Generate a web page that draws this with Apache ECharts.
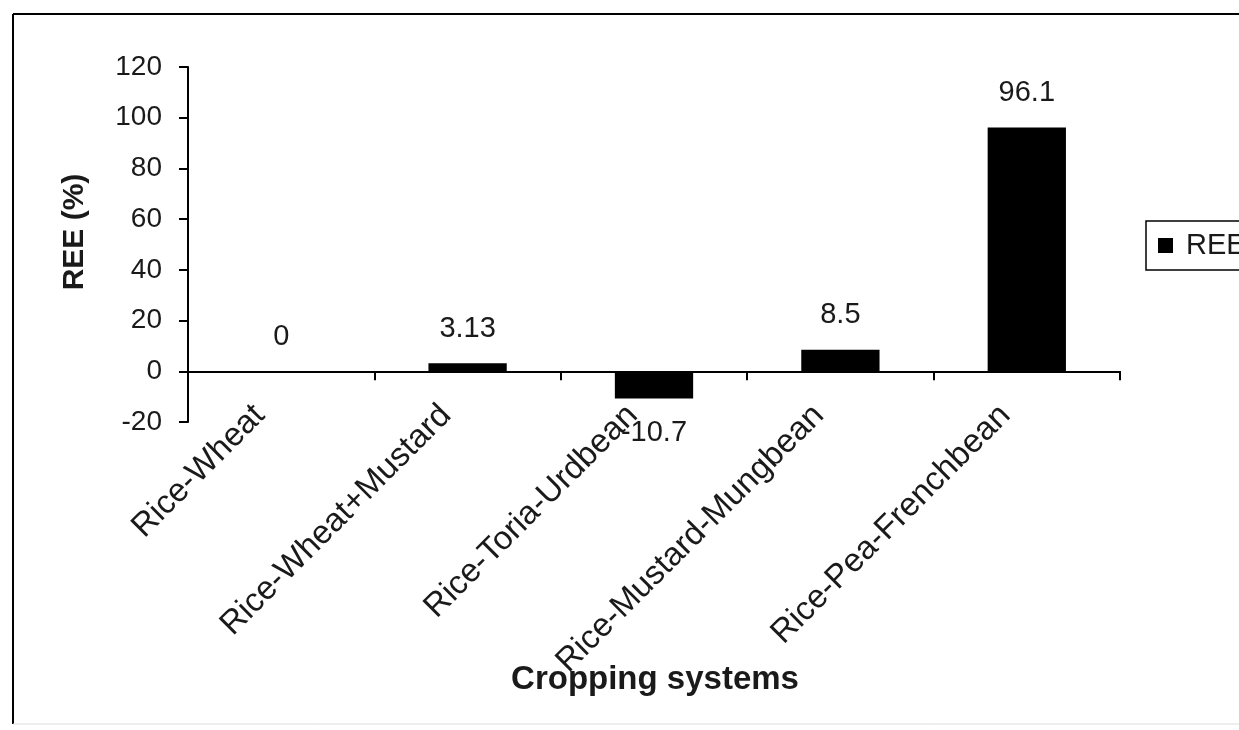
<!DOCTYPE html>
<html>
<head>
<meta charset="utf-8">
<style>
  html, body { margin: 0; padding: 0; background: #fff; }
  #chart { width: 1239px; height: 730px; }
</style>
<script src="https://cdn.jsdelivr.net/npm/echarts@6/dist/echarts.min.js"></script>
</head>
<body>
<div id="chart"></div>
<script>
// Relative economic efficiency by cropping system
const categories = ['Rice-Wheat', 'Rice-Wheat+Mustard', 'Rice-Toria-Urdbean', 'Rice-Mustard-Mungbean', 'Rice-Pea-Frenchbean'];
const reeValues = [0, 3.13, -10.7, 8.5, 96.1];
const yTicks = { min: -20, max: 120, step: 20 };
const seriesName = 'REE';
const xTitle = 'Cropping systems';
const yTitle = 'REE (%)';

const FONT = '"Liberation Sans", Arial, sans-serif';
const INK = '#1a1a1a';

const chart = echarts.init(document.getElementById('chart'), null, { renderer: 'canvas' });

chart.setOption({
  animation: false,
  backgroundColor: '#fff',
  grid: { left: 188, right: 119, top: 67, bottom: 308, containLabel: false, outerBoundsMode: 'none' },
  graphic: [
    // chart frame
    { type: 'line', shape: { x1: 13, y1: 14, x2: 1239, y2: 14 }, style: { stroke: '#000', lineWidth: 2 } },
    { type: 'line', shape: { x1: 13, y1: 14, x2: 13, y2: 724 }, style: { stroke: '#000', lineWidth: 2 } },
    { type: 'line', shape: { x1: 13, y1: 724, x2: 1239, y2: 724 }, style: { stroke: '#ddd', lineWidth: 1 } },
    // category axis title, centred under the plot area
    {
      type: 'text', x: 655, y: 680,
      style: {
        text: xTitle, x: 0, y: 0, align: 'center', verticalAlign: 'middle',
        fontFamily: FONT, fontSize: 33, fontWeight: 'bold', fill: INK
      }
    }
  ],
  legend: {
    left: 1146, top: 221,
    orient: 'vertical',
    data: [seriesName],
    icon: 'rect',
    itemWidth: 15, itemHeight: 15,
    padding: [10, 60, 10, 12],
    borderColor: '#000', borderWidth: 1.5,
    textStyle: { fontFamily: FONT, fontSize: 29, color: INK, padding: [0, 0, 0, 8] }
  },
  xAxis: {
    type: 'category',
    data: categories,
    axisLine: { onZero: true, lineStyle: { color: '#000', width: 2 } },
    axisTick: { show: true, inside: false, length: 9, alignWithLabel: false, lineStyle: { color: '#000', width: 2 } },
    axisLabel: {
      rotate: 45, margin: 0, verticalAlign: 'bottom', padding: [0, 7, 7, 0],
      fontFamily: FONT, fontSize: 33, color: INK, interval: 0, hideOverlap: false
    },
    splitLine: { show: false }
  },
  yAxis: {
    type: 'value',
    min: yTicks.min, max: yTicks.max, interval: yTicks.step,
    name: yTitle,
    nameLocation: 'middle',
    nameGap: 98,
    nameRotate: 90,
    nameTextStyle: { fontFamily: FONT, fontSize: 30, fontWeight: 'bold', color: INK, padding: [0, 0, 0, 25] },
    axisLine: { show: true, lineStyle: { color: '#000', width: 2 } },
    axisTick: { show: true, inside: false, length: 9, lineStyle: { color: '#000', width: 2 } },
    axisLabel: { margin: 26, fontFamily: FONT, fontSize: 28, color: INK },
    splitLine: { show: false }
  },
  series: [{
    name: seriesName,
    type: 'bar',
    data: reeValues.map(v => ({
      value: v,
      label: { position: v < 0 ? 'bottom' : 'top' }
    })),
    barWidth: '42%',
    itemStyle: { color: '#000' },
    label: {
      show: true,
      distance: 20,
      fontFamily: FONT, fontSize: 29, color: INK,
      formatter: p => String(p.value)
    }
  }]
});
</script>
</body>
</html>
